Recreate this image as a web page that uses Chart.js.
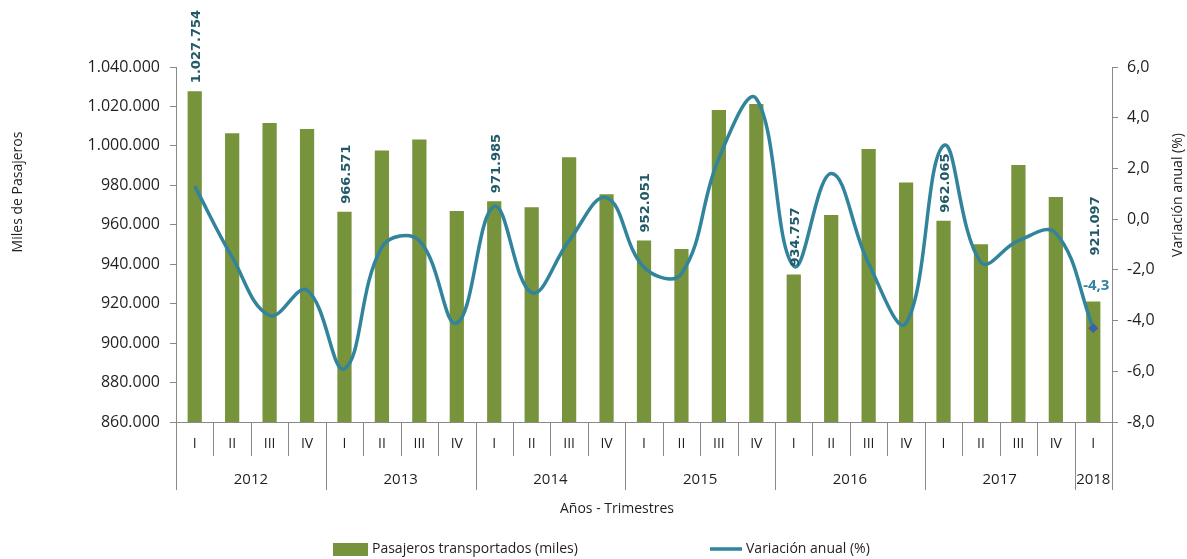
<!DOCTYPE html>
<html>
<head>
<meta charset="utf-8">
<script src="https://cdn.jsdelivr.net/npm/chart.js@4.4.1/dist/chart.umd.min.js"></script>
<style>
  html, body { margin: 0; padding: 0; background: #fff; }
  #wrap { width: 1187px; height: 559px; position: relative; }
</style>
</head>
<body>
<div id="wrap"><canvas id="c"></canvas></div>
<script>
// quarters along the x axis, grouped by year
const quarters = ['I','II','III','IV','I','II','III','IV','I','II','III','IV','I','II','III','IV',
                  'I','II','III','IV','I','II','III','IV','I'];
const years = ['2012','2013','2014','2015','2016','2017','2018'];
const yearSpans = [4, 4, 4, 4, 4, 4, 1];

// Pasajeros transportados (miles)
const pasajeros = [1027754, 1006400, 1011600, 1008600,
                   966571, 997600, 1003300, 967000,
                   971985, 968900, 994200, 975500,
                   952051, 947700, 1018200, 1021300,
                   934757, 965000, 998400, 981500,
                   962065, 950100, 990300, 974100,
                   921097];
// Variación anual (%)
const variacion = [1.3, -1.5, -3.8, -2.8,
                   -5.9, -1.1, -0.85, -4.1,
                   0.5, -2.9, -0.85, 0.85,
                   -1.9, -2.15, 2.4, 4.75,
                   -1.85, 1.8, -1.75, -4.1,
                   2.9, -1.7, -0.85, -0.55,
                   -4.3];
const labelIdx = [0, 4, 8, 12, 16, 20, 24];   // bars that carry a value label

const FONT = "'Open Sans', 'Liberation Sans', sans-serif";
const AXIS = '#898989';
const TXT = '#1f1f1f';

const fmtMiles = v => Math.round(v).toString().replace(/\B(?=(\d{3})+(?!\d))/g, '.');
const fmtPct = v => v.toFixed(1).replace('.', ',');

const decor = {
  id: 'decor',
  afterDraw(chart) {
    const c = chart.ctx;
    const { x } = chart.scales;
    const area = chart.chartArea;
    const catW = x.getPixelForValue(1) - x.getPixelForValue(0);
    c.save();

    // category / year dividers under the axis
    const bounds = [0];
    yearSpans.reduce((a, s) => { bounds.push(a + s); return a + s; }, 0);
    c.strokeStyle = AXIS; c.lineWidth = 1;
    for (let k = 0; k <= quarters.length; k++) {
      const px = Math.round(x.getPixelForValue(k) - catW / 2) + 0.5;
      const long = bounds.includes(k);
      c.beginPath(); c.moveTo(px, area.bottom); c.lineTo(px, long ? 490 : 456); c.stroke();
    }

    // year labels
    c.fillStyle = TXT; c.font = '15px ' + FONT;
    c.textAlign = 'center'; c.textBaseline = 'middle';
    let start = 0;
    years.forEach((yr, j) => {
      const a = x.getPixelForValue(start) - catW / 2;
      const b = x.getPixelForValue(start + yearSpans[j] - 1) + catW / 2;
      c.fillText(yr, (a + b) / 2, 480);
      start += yearSpans[j];
    });

    // axis titles
    c.font = '14px ' + FONT;
    c.fillText('Años - Trimestres', 617, 509);
    c.save(); c.translate(18, 192); c.rotate(-Math.PI / 2);
    c.fillText('Miles de Pasajeros', 0, 0); c.restore();
    c.save(); c.translate(1178, 195); c.rotate(-Math.PI / 2);
    c.fillText('Variación anual (%)', 0, 0); c.restore();

    // legend
    c.fillStyle = '#77933C'; c.fillRect(333, 543, 35, 13);
    c.fillStyle = TXT; c.textAlign = 'left';
    c.fillText('Pasajeros transportados (miles)', 372, 549);
    c.strokeStyle = '#31849B'; c.lineWidth = 3.5;
    c.beginPath(); c.moveTo(710, 549); c.lineTo(742, 549); c.stroke();
    c.fillText('Variación anual (%)', 746, 549);

    // value labels on first-quarter bars
    const bars = chart.getDatasetMeta(1).data;
    c.fillStyle = '#215968';
    c.font = "bold 13px 'DejaVu Sans', sans-serif";
    c.textAlign = 'left'; c.textBaseline = 'middle';
    labelIdx.forEach(i => {
      const el = bars[i];
      const gap = i === pasajeros.length - 1 ? 46 : 8;
      c.save(); c.translate(el.x + 2, el.y - gap); c.rotate(-Math.PI / 2);
      c.fillText(fmtMiles(pasajeros[i]), 0, 0); c.restore();
    });

    // label on last line point
    const pts = chart.getDatasetMeta(0).data;
    const last = pts[pts.length - 1];
    c.fillStyle = '#31849B';
    c.font = "bold 15px 'Open Sans', sans-serif";
    c.textAlign = 'center';
    c.fillText(fmtPct(variacion[variacion.length - 1]), last.x + 3, last.y - 42);

    c.restore();
  }
};

new Chart(document.getElementById('c'), {
  data: {
    labels: quarters,
    datasets: [
      {
        type: 'line', label: 'Variación anual (%)', data: variacion, yAxisID: 'y1',
        borderColor: '#31849B', borderWidth: 3.5, tension: 0.4, order: 0,
        pointRadius: variacion.map((v, i) => i === variacion.length - 1 ? 4.5 : 0),
        pointStyle: 'rectRot', pointBackgroundColor: '#1F6BC4',
        pointBorderColor: '#8B4A5A', pointBorderWidth: 1
      },
      {
        type: 'bar', label: 'Pasajeros transportados (miles)', data: pasajeros, yAxisID: 'y',
        backgroundColor: '#77933C', categoryPercentage: 1, barPercentage: 0.38, order: 1
      }
    ]
  },
  options: {
    responsive: true, maintainAspectRatio: false, animation: false,
    layout: { padding: { top: 67, left: 0, right: 0, bottom: 0 } },
    plugins: { legend: { display: false }, tooltip: { enabled: false } },
    scales: {
      x: {
        offset: true,
        grid: { display: false, drawTicks: false },
        border: { color: AXIS },
        ticks: { color: TXT, font: { family: FONT, size: 14 }, padding: 14, autoSkip: false, maxRotation: 0 },
        afterFit: s => { s.height = 137; }
      },
      y: {
        position: 'left', min: 860000, max: 1040000,
        ticks: { stepSize: 20000, callback: v => fmtMiles(v), color: TXT, font: { family: FONT, size: 16 }, padding: 10 },
        grid: { drawOnChartArea: false, tickLength: 6, color: AXIS },
        border: { color: AXIS },
        afterFit: s => { s.width = 176; }
      },
      y1: {
        position: 'right', min: -8, max: 6,
        ticks: { stepSize: 2, callback: v => fmtPct(v), color: TXT, font: { family: FONT, size: 16 }, padding: 9 },
        grid: { drawOnChartArea: false, tickLength: 6, color: AXIS },
        border: { color: AXIS },
        afterFit: s => { s.width = 75; }
      }
    }
  },
  plugins: [decor]
});
</script>
</body>
</html>
